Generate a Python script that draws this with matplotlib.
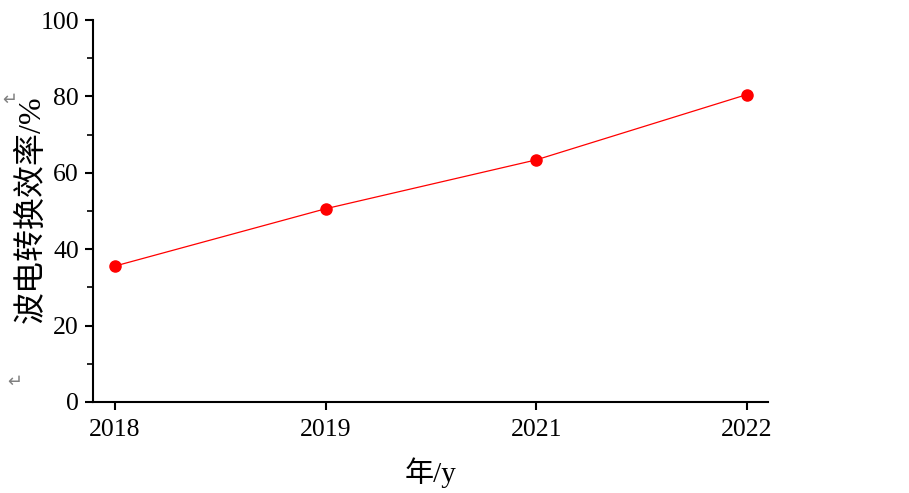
import matplotlib
matplotlib.use("Agg")
import matplotlib.pyplot as plt
from matplotlib.ticker import MultipleLocator

years = ["2018", "2019", "2021", "2022"]
efficiency = [35.6, 50.6, 63.4, 80.5]

plt.rcParams['font.family'] = ['Liberation Serif', 'Noto Sans CJK SC', 'DejaVu Sans']

fig = plt.figure(figsize=(9.09, 4.93), dpi=100)
ax = fig.add_axes([0.1023, 0.1846, 0.7427, 0.7748])

x = list(range(len(years)))
ax.plot(x, efficiency, color='red', linewidth=0.9, marker='o', markersize=8,
        markerfacecolor='red', markeredgecolor='red')

ax.set_xlim(-0.105, 3.10)
ax.set_ylim(0, 100)
ax.set_xticks(x)
ax.set_xticklabels(years)
ax.yaxis.set_major_locator(MultipleLocator(20))
ax.yaxis.set_minor_locator(MultipleLocator(10))

for s in ['top', 'right']:
    ax.spines[s].set_visible(False)
for s in ['left', 'bottom']:
    ax.spines[s].set_linewidth(1.5)

ax.tick_params(axis='both', which='major', direction='out', length=6, width=1.5,
               labelsize=18.5, pad=4)
ax.tick_params(axis='x', which='major', pad=6)
ax.tick_params(axis='y', which='minor', direction='out', length=4, width=1.2)

ax.set_xlabel("年/y", fontsize=21, labelpad=12)
ax.set_ylabel("波电转换效率/%", fontsize=23)
ax.yaxis.set_label_coords(-0.068, 0.505)

fig.text(15 / 909, 1 - 382 / 493, "\u21b5", color='gray', fontsize=13,
         family='DejaVu Sans', ha='center', va='center')
fig.text(10 / 909, 1 - 100 / 493, "\u21b5", color='gray', fontsize=13,
         family='DejaVu Sans', ha='center', va='center')

fig.savefig("out.png", dpi=100)
